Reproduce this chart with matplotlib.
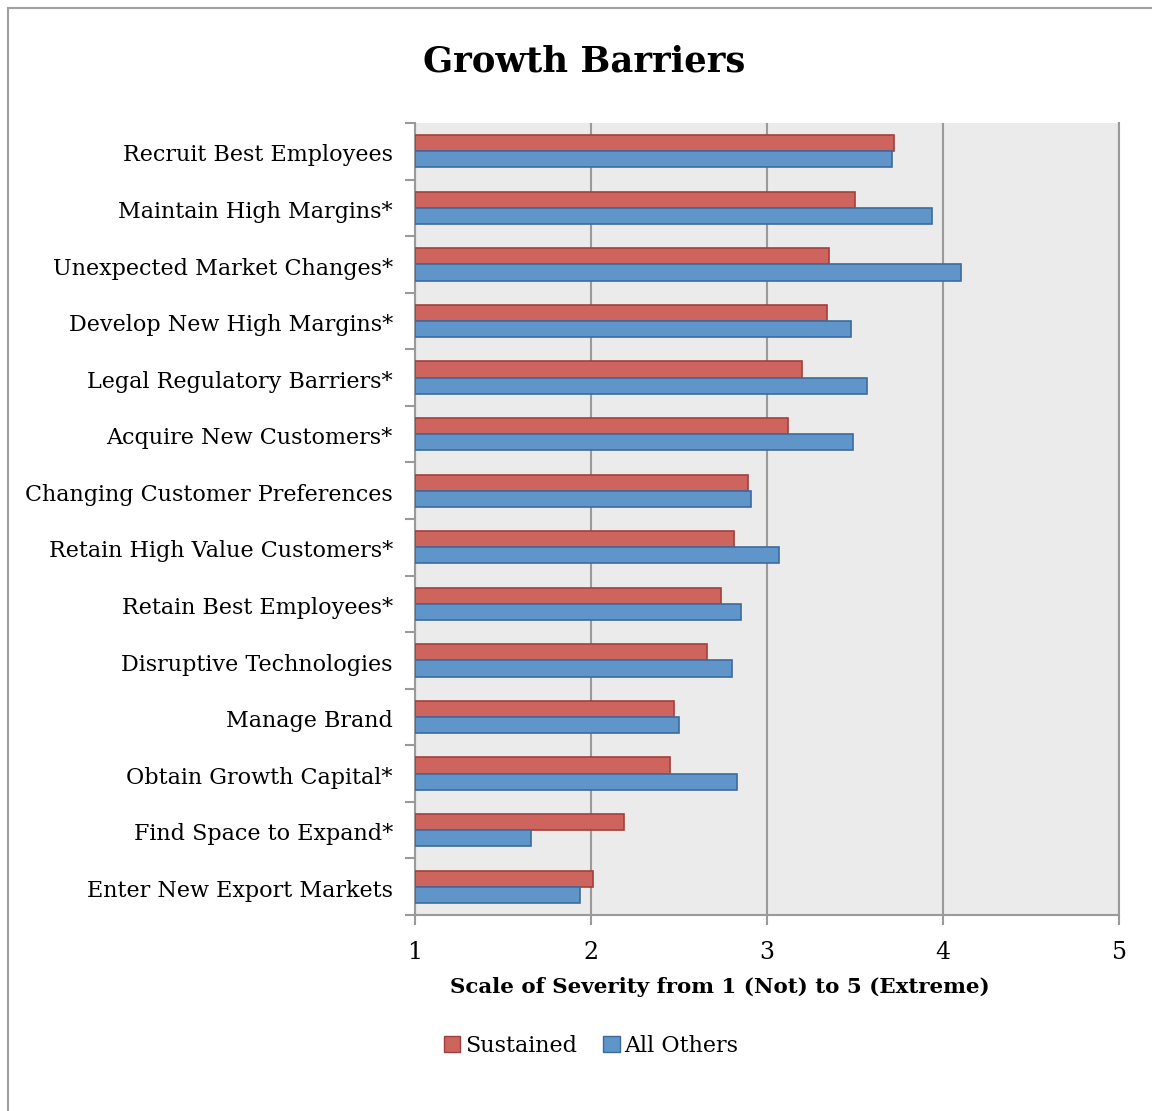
import matplotlib
matplotlib.use("Agg")
import matplotlib.pyplot as plt
import numpy as np
from matplotlib.patches import Rectangle, Patch

plt.rcParams['font.family'] = ['DejaVu Serif']

categories = [
    "Recruit Best Employees",
    "Maintain High Margins*",
    "Unexpected Market Changes*",
    "Develop New High Margins*",
    "Legal Regulatory Barriers*",
    "Acquire New Customers*",
    "Changing Customer Preferences",
    "Retain High Value Customers*",
    "Retain Best Employees*",
    "Disruptive Technologies",
    "Manage Brand",
    "Obtain Growth Capital*",
    "Find Space to Expand*",
    "Enter New Export Markets",
]
sustained = [3.72, 3.50, 3.35, 3.34, 3.20, 3.12, 2.89, 2.81, 2.74, 2.66, 2.47, 2.45, 2.19, 2.01]
all_others = [3.71, 3.94, 4.10, 3.48, 3.57, 3.49, 2.91, 3.07, 2.85, 2.80, 2.50, 2.83, 1.66, 1.94]

RED, RED_EDGE = "#CD645D", "#A33F3B"
BLUE, BLUE_EDGE = "#5F95C9", "#3D6B9E"
GRID = "#9A9A9A"

fig = plt.figure(figsize=(11.52, 11.11), dpi=100)
# outer chart frame (runs off the right and bottom edges)
fig.patches.append(Rectangle((8/1152, -0.01), 1.0, 1 - 8/1111 + 0.01, transform=fig.transFigure,
                             fill=False, edgecolor="#A0A0A0", linewidth=1.5))

ax = fig.add_axes([415/1152, 1 - 915/1111, 704/1152, 792/1111])
ax.set_facecolor("#EBEBEB")

n = len(categories)
y = np.arange(n)
h = 0.285
ax.barh(y - h/2, np.array(sustained) - 1, left=1, height=h, color=RED,
        edgecolor=RED_EDGE, linewidth=1.2, label="Sustained", zorder=3)
ax.barh(y + h/2, np.array(all_others) - 1, left=1, height=h, color=BLUE,
        edgecolor=BLUE_EDGE, linewidth=1.2, label="All Others", zorder=3)

ax.set_xlim(1, 5)
ax.set_ylim(n - 0.5, -0.5)
ax.set_xticks([1, 2, 3, 4, 5])
ax.set_xticklabels(["1", "2", "3", "4", "5"], fontsize=17)
ax.grid(axis="x", color=GRID, linewidth=1.5, zorder=1)

# category labels, with minor ticks marking the group borders
ax.set_yticks(y + 0.03)
ax.set_yticklabels(categories, fontsize=16)
ax.tick_params(axis="y", length=0, pad=16)
ax.set_yticks(np.arange(-0.5, n + 0.5, 1), minor=True)
ax.tick_params(axis="y", which="minor", length=7, width=1.5, color=GRID)
ax.tick_params(axis="x", length=7, width=1.5, color=GRID, pad=12)

ax.spines["top"].set_visible(False)
for side in ["left", "bottom", "right"]:
    ax.spines[side].set_color(GRID)
    ax.spines[side].set_linewidth(1.5)

fig.text(584/1152, 1 - 62/1111, "Growth Barriers", ha="center", va="center",
         fontsize=25.5, fontweight="bold")
fig.text(720/1152, 1 - 987/1111, "Scale of Severity from 1 (Not) to 5 (Extreme)",
         ha="center", va="center", fontsize=15.4, fontweight="bold")

handles = [Patch(facecolor=RED, edgecolor=RED_EDGE, label="Sustained"),
           Patch(facecolor=BLUE, edgecolor=BLUE_EDGE, label="All Others")]
fig.legend(handles=handles, loc="center", bbox_to_anchor=(591/1152, 1 - 1046/1111),
           ncol=2, frameon=False, fontsize=16, handlelength=0.75, handleheight=0.75,
           handletextpad=0.2, columnspacing=1.2)

fig.savefig("out.png", dpi=100)
